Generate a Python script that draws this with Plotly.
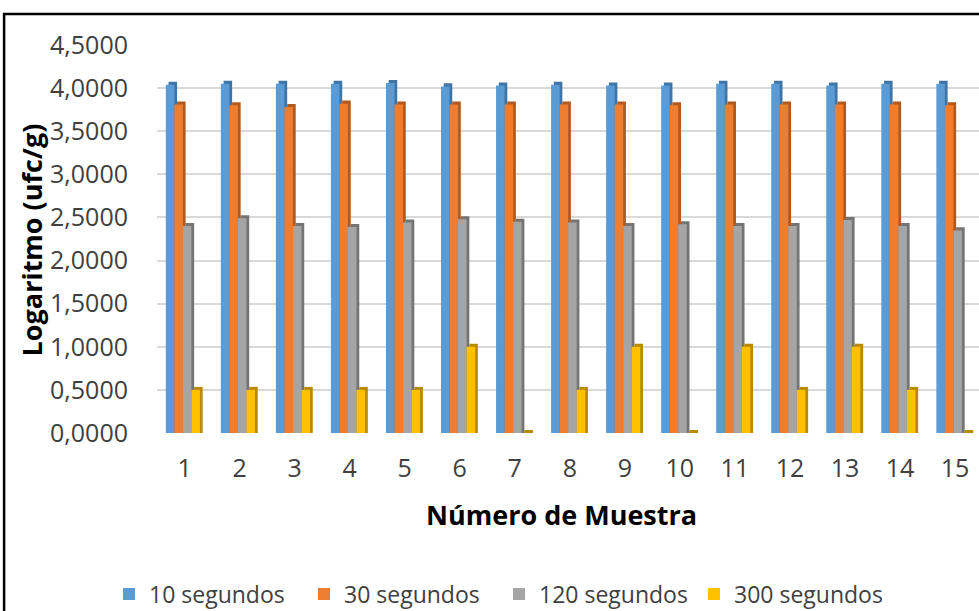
import plotly.graph_objects as go

# Sample numbers (x axis)
muestras = list(range(1, 16))

# log10 of cfu/g per exposure time
seg_10 = [4.04, 4.05, 4.05, 4.05, 4.06, 4.02, 4.03, 4.04, 4.03, 4.03, 4.05, 4.05, 4.03, 4.05, 4.05]
seg_30 = [3.81, 3.80, 3.78, 3.82, 3.81, 3.81, 3.81, 3.81, 3.81, 3.80, 3.81, 3.81, 3.81, 3.81, 3.80]
seg_120 = [2.40, 2.49, 2.40, 2.39, 2.44, 2.48, 2.45, 2.44, 2.40, 2.42, 2.40, 2.40, 2.47, 2.40, 2.35]
seg_300 = [0.50, 0.50, 0.50, 0.50, 0.50, 1.00, 0.00, 0.50, 1.00, 0.00, 1.00, 0.50, 1.00, 0.50, 0.00]

series_names = ["10 segundos", "30 segundos", "120 segundos", "300 segundos"]
series_values = [seg_10, seg_30, seg_120, seg_300]

y_ticks = [0, 0.5, 1.0, 1.5, 2.0, 2.5, 3.0, 3.5, 4.0, 4.5]
y_tick_text = ["0,0000", "0,5000", "1,0000", "1,5000", "2,0000",
               "2,5000", "3,0000", "3,5000", "4,0000", "4,5000"]

face_colors = ["#5B9BD5", "#ED7D31", "#A5A5A5", "#FFC000"]
side_colors = ["#3F74A6", "#B25A1E", "#747474", "#B88A00"]

FONT = "Open Sans"
TEXT = "#404040"

bar_w = 0.155          # width of one bar, in category units
group_start = -0.34    # left edge of the first bar relative to the category
depth_dx = 0.05        # horizontal shift of the extruded back face
depth_dy = 0.035       # vertical shift of the extruded back face

fig = go.Figure()

for k, (name, vals) in enumerate(zip(series_names, series_values)):
    off = group_start + k * bar_w
    # darker extruded face, drawn first so the front face sits over it
    fig.add_trace(go.Bar(
        x=muestras, y=[v + depth_dy for v in vals], base=0,
        offset=off + depth_dx, width=bar_w,
        marker=dict(color=side_colors[k], line=dict(width=0)),
        showlegend=False, hoverinfo="skip",
    ))
    fig.add_trace(go.Bar(
        x=muestras, y=vals, name=name,
        offset=off, width=bar_w,
        marker=dict(color=face_colors[k], line=dict(width=0)),
    ))

# chart frame
fig.add_shape(type="rect", xref="paper", yref="paper",
              x0=-0.186, x1=1.05, y0=-0.6, y1=1.0799,
              line=dict(color="black", width=2.5), fillcolor="rgba(0,0,0,0)",
              layer="above")

fig.add_annotation(text="<b>Número de Muestra</b>", xref="paper", yref="paper",
                   x=0.4927, y=-0.2113, xanchor="center", yanchor="middle",
                   showarrow=False,
                   font=dict(family=FONT, size=27, color="black"))
fig.add_annotation(text="<b>Logaritmo (ufc/g)</b>", xref="paper", yref="paper",
                   x=-0.153, y=0.497, xanchor="center", yanchor="middle",
                   showarrow=False, textangle=-90,
                   font=dict(family=FONT, size=27, color="black"))

fig.update_layout(
    width=979, height=611,
    margin=dict(l=157, r=0, t=45, b=178, autoexpand=False),
    paper_bgcolor="white", plot_bgcolor="white",
    barmode="overlay",
    font=dict(family=FONT, size=21, color=TEXT),
    legend=dict(orientation="h", x=-0.0584, y=-0.415, xanchor="left", yanchor="middle",
                font=dict(family=FONT, size=23, color=TEXT),
                entrywidth=150, entrywidthmode="pixels",
                itemwidth=30, traceorder="normal"),
    xaxis=dict(range=[0.5, 15.435], tickvals=muestras,
               ticktext=[str(m) for m in muestras],
               showgrid=False, zeroline=False, showline=False,
               ticks="", ticklabelstandoff=18,
               tickfont=dict(family=FONT, size=25, color=TEXT)),
    yaxis=dict(range=[0, 4.5], tickvals=y_ticks, ticktext=y_tick_text,
               showgrid=True, gridcolor="#D9D9D9", gridwidth=1.5,
               zeroline=False, showline=False, ticks="",
               ticklabelstandoff=28,
               tickfont=dict(family=FONT, size=25, color=TEXT)),
)

fig.write_html("out.html")
